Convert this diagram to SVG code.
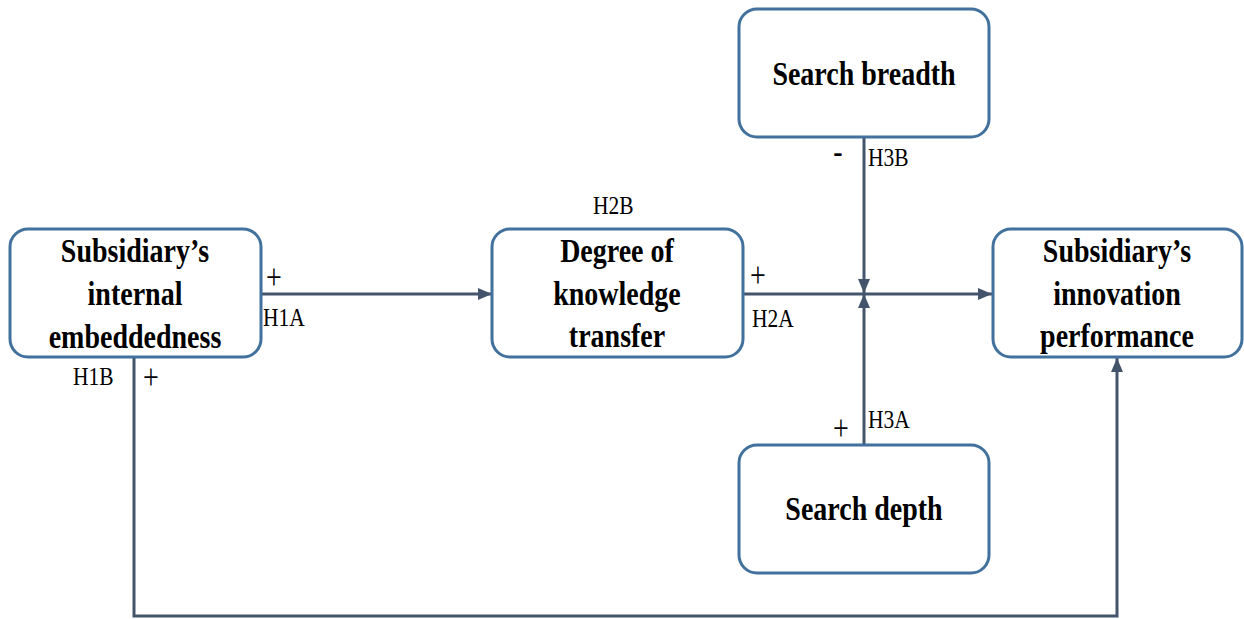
<svg xmlns="http://www.w3.org/2000/svg" width="1244" height="619" viewBox="0 0 1244 619">
<style>
.box{fill:#fff;stroke:#41719C;stroke-width:3}
.nt{font-family:"Liberation Serif","Times New Roman",serif;font-weight:bold;font-size:28px;fill:#000;text-anchor:middle}
.lb{font-family:"Liberation Serif","Times New Roman",serif;font-size:21.5px;fill:#000}
.pm{font-family:"Liberation Serif","Times New Roman",serif;font-size:28px;fill:#000;text-anchor:middle}
.cn{fill:none;stroke:#44546A;stroke-width:3}
</style>
<defs>
<marker id="ah" viewBox="0 0 14 12" refX="14" refY="6" markerWidth="14" markerHeight="12" markerUnits="userSpaceOnUse" orient="auto">
<path d="M0,0 L14,6 L0,12 Z" fill="#44546A"/>
</marker>
</defs>
<rect width="1244" height="619" fill="#fff"/>
<g id="connectors">
<line class="cn" x1="261" y1="294" x2="492" y2="294" marker-end="url(#ah)"/>
<line class="cn" x1="743" y1="294" x2="992" y2="294" marker-end="url(#ah)"/>
<line class="cn" x1="864" y1="137" x2="864" y2="293" marker-end="url(#ah)"/>
<line class="cn" x1="864" y1="445" x2="864" y2="294" marker-end="url(#ah)"/>
<polyline class="cn" points="134,357 134,616 1117,616 1117,358" marker-end="url(#ah)"/>
</g>
<g id="internal">
<rect class="box" x="10" y="229" width="251" height="128" rx="18"/>
<text class="nt" transform="translate(135,262) scale(1,1.18)">Subsidiary’s</text>
<text class="nt" transform="translate(135,305) scale(1,1.18)">internal</text>
<text class="nt" transform="translate(135,348) scale(1,1.18)">embeddedness</text>
</g>
<g id="transfer">
<rect class="box" x="492" y="229" width="251" height="128" rx="18"/>
<text class="nt" transform="translate(617,262) scale(1,1.18)">Degree of</text>
<text class="nt" transform="translate(617,305) scale(1,1.18)">knowledge</text>
<text class="nt" transform="translate(617,347) scale(1,1.18)">transfer</text>
</g>
<g id="performance">
<rect class="box" x="993" y="229" width="249" height="128" rx="18"/>
<text class="nt" transform="translate(1117,262) scale(1,1.18)">Subsidiary’s</text>
<text class="nt" transform="translate(1117,305) scale(1,1.18)">innovation</text>
<text class="nt" transform="translate(1117,347) scale(1,1.18)">performance</text>
</g>
<g id="breadth">
<rect class="box" x="739" y="9" width="250" height="128" rx="18"/>
<text class="nt" transform="translate(864,85) scale(1,1.18)">Search breadth</text>
</g>
<g id="depth">
<rect class="box" x="739" y="445" width="250" height="128" rx="18"/>
<text class="nt" transform="translate(864,520) scale(1,1.18)">Search depth</text>
</g>
<g id="labels">
<text class="pm" transform="translate(274,289) scale(1,1.3)">+</text>
<text class="lb" transform="translate(263,326) scale(1,1.2)">H1A</text>
<text class="lb" transform="translate(73,385) scale(1,1.2)">H1B</text>
<text class="pm" transform="translate(151,389) scale(1,1.3)">+</text>
<text class="lb" transform="translate(593,214) scale(1,1.2)">H2B</text>
<text class="pm" transform="translate(758,287) scale(1,1.3)">+</text>
<text class="lb" transform="translate(752,327) scale(1,1.2)">H2A</text>
<text class="pm" transform="translate(838,163) scale(1,1.3)">-</text>
<text class="lb" transform="translate(868,166) scale(1,1.2)">H3B</text>
<text class="lb" transform="translate(868,428) scale(1,1.2)">H3A</text>
<text class="pm" transform="translate(841,440) scale(1,1.3)">+</text>
</g>
</svg>
